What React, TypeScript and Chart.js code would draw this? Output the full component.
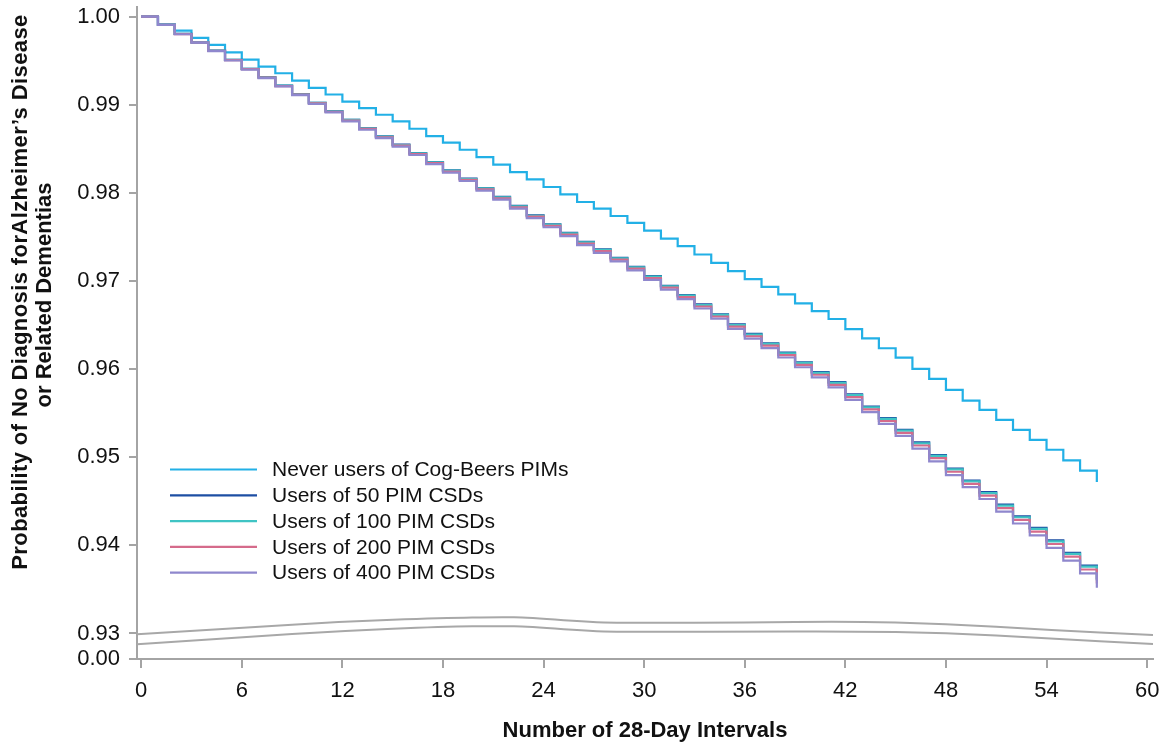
import React, { useEffect, useRef } from "react";
import { Chart, registerables } from "chart.js";

Chart.register(...registerables);

// ---------- data ----------
const INTERVALS = [
  0, 1, 2, 3, 4, 5, 6, 7, 8, 9, 10, 11, 12, 13, 14, 15, 16, 17, 18, 19, 20,
  21, 22, 23, 24, 25, 26, 27, 28, 29, 30, 31, 32, 33, 34, 35, 36, 37, 38, 39,
  40, 41, 42, 43, 44, 45, 46, 47, 48, 49, 50, 51, 52, 53, 54, 55, 56, 57,
];

const NEVER_USERS = [
  1.0, 0.99909, 0.99841, 0.99759, 0.9968, 0.99596, 0.99513, 0.99434, 0.99358,
  0.99275, 0.99193, 0.99117, 0.99037, 0.98962, 0.98887, 0.98811, 0.98728,
  0.98644, 0.9857, 0.9849, 0.98407, 0.98321, 0.98237, 0.98154, 0.98067,
  0.97984, 0.97897, 0.97822, 0.97738, 0.97659, 0.97573, 0.97482, 0.97395,
  0.97301, 0.97206, 0.97112, 0.97022, 0.96934, 0.96848, 0.96746, 0.96659,
  0.96569, 0.96455, 0.9635, 0.96237, 0.9613, 0.96002, 0.95889, 0.95764,
  0.95643, 0.95538, 0.95425, 0.95311, 0.95198, 0.95085, 0.94964, 0.94847,
  0.9472,
];

const USERS_50 = [
  1.0, 0.99909, 0.99804, 0.99709, 0.99615, 0.9951, 0.99408, 0.99313, 0.99219,
  0.99122, 0.99023, 0.98928, 0.9883, 0.98735, 0.98641, 0.98547, 0.98452,
  0.9835, 0.98256, 0.98162, 0.98055, 0.97954, 0.97852, 0.97746, 0.97644,
  0.97546, 0.97444, 0.97358, 0.97263, 0.97161, 0.97055, 0.96946, 0.9684,
  0.96735, 0.96622, 0.96508, 0.96399, 0.96293, 0.96187, 0.96078, 0.95965,
  0.95852, 0.95713, 0.95575, 0.95444, 0.95311, 0.95168, 0.95025, 0.94872,
  0.94736, 0.94604, 0.94462, 0.9433, 0.94198, 0.94058, 0.93915, 0.93771,
  0.93613,
];

const USERS_100 = [
  1.0, 0.99909, 0.99804, 0.99708, 0.99614, 0.99509, 0.99407, 0.99312, 0.99217,
  0.9912, 0.99021, 0.98926, 0.98828, 0.98732, 0.98638, 0.98544, 0.98449,
  0.98347, 0.98253, 0.98158, 0.98051, 0.9795, 0.97848, 0.97741, 0.97639,
  0.97541, 0.97439, 0.97353, 0.97258, 0.97155, 0.97049, 0.9694, 0.96834,
  0.96728, 0.96615, 0.96501, 0.96392, 0.96286, 0.96179, 0.9607, 0.95957,
  0.95844, 0.95704, 0.95566, 0.95435, 0.95302, 0.95158, 0.95015, 0.94862,
  0.94725, 0.94593, 0.94451, 0.94319, 0.94186, 0.94046, 0.93903, 0.93759,
  0.936,
];

const USERS_200 = [
  1.0, 0.99908, 0.99803, 0.99707, 0.99612, 0.99506, 0.99404, 0.99308, 0.99213,
  0.99116, 0.99016, 0.9892, 0.98821, 0.98726, 0.98631, 0.98536, 0.98441,
  0.98338, 0.98243, 0.98149, 0.98041, 0.97939, 0.97836, 0.9773, 0.97627,
  0.97528, 0.97425, 0.97339, 0.97243, 0.9714, 0.97034, 0.96924, 0.96817,
  0.96711, 0.96597, 0.96483, 0.96373, 0.96266, 0.96159, 0.96049, 0.95936,
  0.95822, 0.95682, 0.95543, 0.95411, 0.95277, 0.95133, 0.94989, 0.94835,
  0.94698, 0.94565, 0.94422, 0.94289, 0.94156, 0.94015, 0.93871, 0.93726,
  0.93566,
];

const USERS_400 = [
  1.0, 0.99908, 0.99801, 0.99705, 0.99609, 0.99503, 0.99399, 0.99303, 0.99208,
  0.99109, 0.99009, 0.98913, 0.98813, 0.98717, 0.98621, 0.98526, 0.9843,
  0.98326, 0.98231, 0.98135, 0.98027, 0.97924, 0.97821, 0.97713, 0.9761,
  0.9751, 0.97407, 0.9732, 0.97223, 0.9712, 0.97012, 0.96902, 0.96794,
  0.96688, 0.96573, 0.96457, 0.96347, 0.96239, 0.96132, 0.96021, 0.95907,
  0.95792, 0.95651, 0.95511, 0.95378, 0.95243, 0.95098, 0.94953, 0.94798,
  0.9466, 0.94526, 0.94382, 0.94248, 0.94114, 0.93972, 0.93827, 0.93681,
  0.9352,
];

const SERIES_LABELS = [
  "Never users of Cog-Beers PIMs",
  "Users of 50 PIM CSDs",
  "Users of 100 PIM CSDs",
  "Users of 200 PIM CSDs",
  "Users of 400 PIM CSDs",
];
const SERIES_COLORS = ["#22b0e6", "#1d4ea3", "#3fc4c4", "#d56b8b", "#8f87cd"];
const SERIES_ORDER = [4, 3, 2, 1, 0];

const X_TICKS = [0, 6, 12, 18, 24, 30, 36, 42, 48, 54, 60];
const Y_TICKS = [0.93, 0.94, 0.95, 0.96, 0.97, 0.98, 0.99, 1.0];
const Y_BREAK_LABEL = "0.00";
const X_TITLE = "Number of 28-Day Intervals";
const Y_TITLE_LINES = [
  "Probability of No Diagnosis forAlzheimer\u2019s Disease",
  "or Related Dementias",
];

// axis-break wave (x in intervals, y in axis units)
const BREAK_X = [-0.25, 6, 12, 18, 21.5, 23, 27.4, 30, 36, 42, 48, 54, 60.35];
const BREAK_TOP = [
  0.9299, 0.93061, 0.93137, 0.93175, 0.93186, 0.93179, 0.93122, 0.93122,
  0.93122, 0.93137, 0.93111, 0.93039, 0.92982,
];
const BREAK_BOTTOM = [
  0.92877, 0.92959, 0.93027, 0.93077, 0.93084, 0.93077, 0.9302, 0.9302,
  0.9302, 0.93024, 0.93009, 0.92945, 0.9288,
];

const Y_MIN = 0.9271;
const Y_MAX = 1.0011;
const X_MIN = -0.25;
const X_MAX = 60.35;

const FONT = "'Liberation Sans', Arial, Helvetica, sans-serif";
const AXIS_GRAY = "#a4a4a4";

const overlayPlugin = {
  id: "overlay",
  afterDraw(chart: any) {
    const ctx = chart.ctx as CanvasRenderingContext2D;
    const xs = chart.scales.x;
    const ys = chart.scales.y;
    const area = chart.chartArea;

    // axis break waves
    const drawWave = (vals: number[]) => {
      const pts = BREAK_X.map((x, i) => [
        xs.getPixelForValue(x),
        ys.getPixelForValue(vals[i]),
      ]);
      ctx.beginPath();
      ctx.moveTo(pts[0][0], pts[0][1]);
      for (let i = 1; i < pts.length - 1; i++) {
        const mx = (pts[i][0] + pts[i + 1][0]) / 2;
        const my = (pts[i][1] + pts[i + 1][1]) / 2;
        ctx.quadraticCurveTo(pts[i][0], pts[i][1], mx, my);
      }
      const last = pts[pts.length - 1];
      ctx.lineTo(last[0], last[1]);
      ctx.stroke();
    };
    ctx.save();
    ctx.strokeStyle = "#a8a8a8";
    ctx.lineWidth = 2;
    drawWave(BREAK_TOP);
    drawWave(BREAK_BOTTOM);
    ctx.restore();

    // legend
    ctx.save();
    ctx.font = `21px ${FONT}`;
    ctx.textBaseline = "middle";
    ctx.textAlign = "left";
    SERIES_LABELS.forEach((label, i) => {
      const y = 469.5 + i * 25.8;
      ctx.strokeStyle = SERIES_COLORS[i];
      ctx.lineWidth = 2.2;
      ctx.beginPath();
      ctx.moveTo(170, y);
      ctx.lineTo(257, y);
      ctx.stroke();
      ctx.fillStyle = "#111";
      ctx.fillText(label, 272, y + 1);
    });
    ctx.restore();

    // axis titles
    ctx.save();
    ctx.fillStyle = "#111";
    ctx.font = `bold 22px ${FONT}`;
    ctx.textAlign = "center";
    ctx.textBaseline = "alphabetic";
    ctx.fillText(X_TITLE, (area.left + area.right) / 2, 737);
    const baselines = [27, 50.5];
    const centers = [292, 295];
    const spacing = ["0.4px", "0px"];
    Y_TITLE_LINES.forEach((line, i) => {
      ctx.save();
      (ctx as any).letterSpacing = spacing[i];
      ctx.translate(baselines[i], centers[i]);
      ctx.rotate(-Math.PI / 2);
      ctx.fillText(line, 0, 0);
      ctx.restore();
    });
    ctx.restore();
  },
};

export default function App() {
  const canvasRef = useRef<HTMLCanvasElement | null>(null);

  useEffect(() => {
    document.body.style.margin = "0";
    const canvas = canvasRef.current;
    if (!canvas) return;
    const seriesData = [NEVER_USERS, USERS_50, USERS_100, USERS_200, USERS_400];
    const chart = new Chart(canvas, {
      type: "line",
      data: {
        datasets: seriesData.map((arr, s) => ({
          label: SERIES_LABELS[s],
          data: INTERVALS.map((x, i) => ({ x, y: arr[i] })),
          borderColor: SERIES_COLORS[s],
          backgroundColor: SERIES_COLORS[s],
          borderWidth: 2.2,
          pointRadius: 0,
          stepped: "before" as const,
          fill: false,
          order: SERIES_ORDER[s],
        })),
      },
      options: {
        animation: false,
        responsive: false,
        layout: { padding: { top: 7, right: 18, left: 0, bottom: 0 } },
        plugins: {
          legend: { display: false },
          tooltip: { enabled: false },
        },
        scales: {
          x: {
            type: "linear",
            min: X_MIN,
            max: X_MAX,
            afterBuildTicks: (s: any) => {
              s.ticks = X_TICKS.map((v) => ({ value: v }));
            },
            afterFit: (s: any) => {
              s.height = 87;
              s.paddingLeft = 0;
              s.paddingRight = 0;
            },
            grid: {
              display: true,
              drawOnChartArea: false,
              drawTicks: true,
              tickLength: 9,
              color: AXIS_GRAY,
              lineWidth: 2,
            },
            border: { display: true, color: AXIS_GRAY, width: 2 },
            ticks: {
              font: { family: FONT, size: 22 },
              color: "#111",
              padding: 10,
              maxRotation: 0,
              autoSkip: false,
              callback: (v: any) => String(v),
            },
          },
          y: {
            type: "linear",
            min: Y_MIN,
            max: Y_MAX,
            afterBuildTicks: (s: any) => {
              s.ticks = [{ value: Y_MIN }, ...Y_TICKS.map((v) => ({ value: v }))];
            },
            afterFit: (s: any) => {
              s.width = 137;
              s.paddingTop = 0;
              s.paddingBottom = 0;
            },
            grid: {
              display: true,
              drawOnChartArea: false,
              drawTicks: true,
              tickLength: 8,
              color: AXIS_GRAY,
              lineWidth: 2,
            },
            border: { display: true, color: AXIS_GRAY, width: 2 },
            ticks: {
              font: { family: FONT, size: 22 },
              color: "#111",
              padding: 9,
              autoSkip: false,
              callback: (v: any) =>
                Number(v) < 0.929 ? Y_BREAK_LABEL : Number(v).toFixed(2),
            },
          },
        },
      },
      plugins: [overlayPlugin],
    });
    return () => chart.destroy();
  }, []);

  return (
    <div style={{ width: 1171, height: 746 }}>
      <canvas
        ref={canvasRef}
        width={1171}
        height={746}
        style={{ display: "block", width: 1171, height: 746 }}
      />
    </div>
  );
}
